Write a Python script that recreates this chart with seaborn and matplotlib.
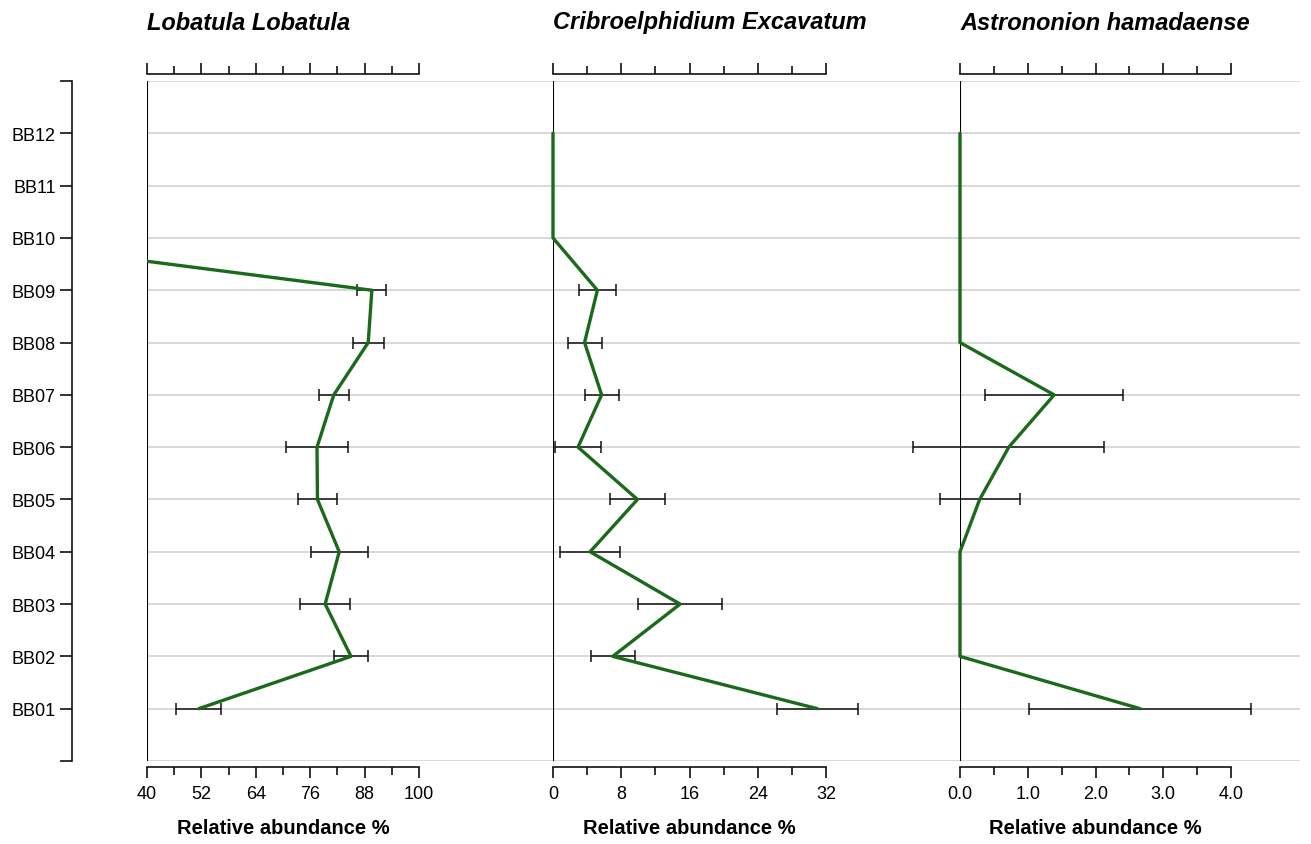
import matplotlib
matplotlib.use("Agg")
import matplotlib.pyplot as plt
import matplotlib.transforms as mtransforms
import seaborn as sns
import numpy as np

# Sample levels (bottom to top)
samples = ["BB01", "BB02", "BB03", "BB04", "BB05", "BB06",
           "BB07", "BB08", "BB09", "BB10", "BB11", "BB12"]

# Relative abundance (%) and standard errors per species
lobatula = [51.4, 85.0, 79.3, 82.4, 77.6, 77.5, 81.2, 88.8, 89.6, 0.0, 0.0, 0.0]
lobatula_err = [5.0, 3.7, 5.5, 6.3, 4.3, 6.9, 3.3, 3.4, 3.2, 0.0, 0.0, 0.0]

cribro = [31.0, 7.0, 14.9, 4.35, 9.9, 2.93, 5.7, 3.7, 5.2, 0.0, 0.0, 0.0]
cribro_err = [4.75, 2.6, 4.95, 3.5, 3.2, 2.75, 2.0, 2.0, 2.2, 0.0, 0.0, 0.0]

astro = [2.66, 0.0, 0.0, 0.0, 0.29, 0.72, 1.39, 0.0, 0.0, 0.0, 0.0, 0.0]
astro_err = [1.64, 0.0, 0.0, 0.0, 0.59, 1.41, 1.02, 0.0, 0.0, 0.0, 0.0, 0.0]

titles = ["Lobatula Lobatula", "Cribroelphidium Excavatum", "Astrononion hamadaense"]
xlabel = "Relative abundance %"

sns.set_style("white")
plt.rcParams["font.family"] = ["Liberation Sans", "DejaVu Sans"]
plt.rcParams["text.color"] = "black"
plt.rcParams["xtick.color"] = "black"
plt.rcParams["ytick.color"] = "black"

W, H = 1311, 845
fig = plt.figure(figsize=(W / 100, H / 100), dpi=100)

bottom = (H - 762) / H
height = 680 / H

panels = [
    # (left px, width px, xlim, spine bounds, major ticks, minor ticks, tick fmt, values, errors, clip)
    (147, 406, (40, 40 + 406 / (272 / 60)), (40, 100),
     [40, 52, 64, 76, 88, 100], [46, 58, 70, 82, 94], "{:g}", lobatula, lobatula_err, True),
    (553, 407, (0, 407 / (273 / 32)), (0, 32),
     [0, 8, 16, 24, 32], [4, 12, 20, 28], "{:g}", cribro, cribro_err, False),
    (960, 340, (0, 340 / (271 / 4)), (0, 4),
     [0, 1, 2, 3, 4], [0.5, 1.5, 2.5, 3.5], "{:.1f}", astro, astro_err, False),
]

line_color = "#1b6a1b"
ink = "#111111"
pos = np.arange(1, len(samples) + 1)

for i, (left, width, xlim, bounds, majors, minors, fmt, vals, errs, clip) in enumerate(panels):
    ax = fig.add_axes([left / W, bottom, width / W, height])

    # abundance profile
    sns.lineplot(x=vals, y=pos, orient="y", estimator=None, sort=True,
                 color=line_color, linewidth=2.4, ax=ax, zorder=4)
    ax.lines[-1].set_clip_on(clip)

    # error bars where an error was measured
    v = np.asarray(vals)
    e = np.asarray(errs)
    m = e > 0
    ec = ax.errorbar(v[m], pos[m], xerr=e[m], fmt="none", ecolor=ink,
                     elinewidth=1.1, capsize=4.6, capthick=1.1, zorder=3)
    for art in ec.get_children():
        art.set_clip_on(False)

    # zero line of the panel
    ax.axvline(bounds[0], color="black", lw=1.5, zorder=2)

    ax.set_xlim(*xlim)
    ax.set_ylim(0, 13)
    ax.set_xlabel("")
    ax.set_ylabel("")

    # horizontal grid at each sample level
    ax.set_yticks(range(14))
    ax.grid(axis="y", color="#d2d2d2", lw=1.2)
    ax.grid(axis="x", visible=False)
    ax.set_axisbelow(True)

    # bracket-style top and bottom scales
    ax.spines["right"].set_visible(False)
    for s in ("top", "bottom"):
        ax.spines[s].set_bounds(*bounds)
        ax.spines[s].set_linewidth(1.2)
        ax.spines[s].set_color(ink)
    ax.spines["top"].set_position(("outward", 5))
    ax.spines["bottom"].set_position(("outward", 4.3))

    ax.set_xticks(majors)
    ax.set_xticks(minors, minor=True)
    ax.set_xticklabels([fmt.format(t) for t in majors])
    ax.tick_params(axis="x", which="both", top=True, bottom=True, direction="out",
                   width=1.2, color=ink, labelcolor="black", labeltop=False,
                   labelsize=13, pad=5)
    ax.tick_params(axis="x", which="major", length=8)
    ax.tick_params(axis="x", which="minor", length=5.8)

    if i == 0:
        ax.spines["left"].set_position(("outward", 54))
        ax.spines["left"].set_bounds(0, 13)
        ax.spines["left"].set_linewidth(1.2)
        ax.spines["left"].set_color(ink)
        ax.set_yticklabels([""] + samples + [""])
        ax.tick_params(axis="y", left=True, direction="out", length=8.6, width=1.2,
                       color=ink, labelcolor="black", labelsize=13, pad=3)
    else:
        ax.spines["left"].set_visible(False)
        ax.set_yticklabels([])
        ax.tick_params(axis="y", left=False, length=0)

    trans = mtransforms.blended_transform_factory(ax.transData, fig.transFigure)
    fig.text(bounds[0], 1 - 23 / H, titles[i], transform=trans, ha="left", va="center",
             fontsize=17, fontweight="bold", fontstyle="italic", color="black")
    fig.text((bounds[0] + bounds[1]) / 2, (H - 829) / H, xlabel, transform=trans,
             ha="center", va="center", fontsize=14.5, fontweight="bold", color="black")

fig.savefig("out.png", dpi=100)
